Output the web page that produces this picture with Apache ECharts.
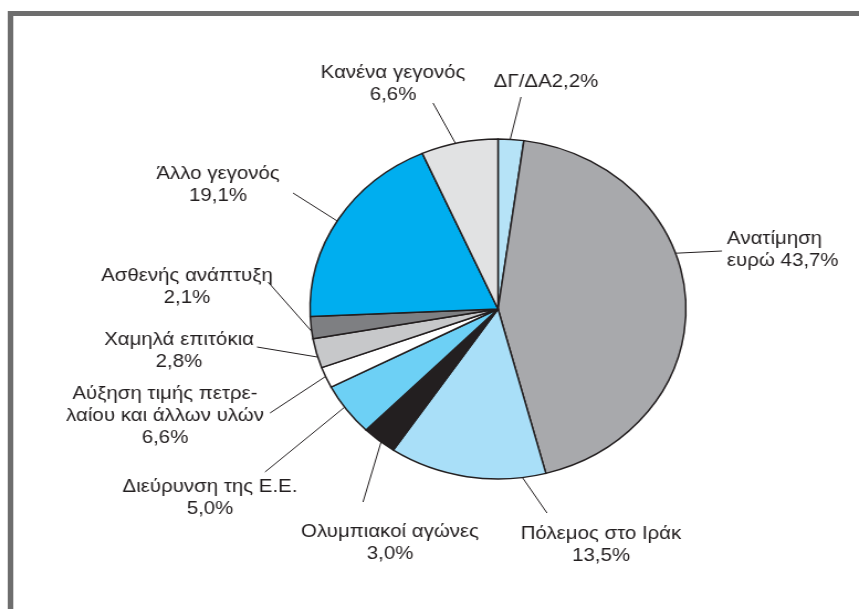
<!DOCTYPE html>
<html>
<head>
<meta charset="utf-8">
<script src="https://cdn.jsdelivr.net/npm/echarts@6/dist/echarts.min.js"></script>
<style>
  html, body { margin: 0; padding: 0; background: #fff; overflow: hidden; }
  /* the printed chart is stretched horizontally, so the whole drawing is too */
  #main { width: 777px; height: 609px; transform: scaleX(1.1055); transform-origin: 0 0; }
</style>
</head>
<body>
<div id="main"></div>
<script>
// DATA
var names = ['ΔΓ/ΔΑ', 'Ανατίμηση ευρώ', 'Πόλεμος στο Ιράκ', 'Ολυμπιακοί αγώνες', 'Διεύρυνση της Ε.Ε.',
  'Αύξηση τιμής πετρελαίου και άλλων υλών', 'Χαμηλά επιτόκια', 'Ασθενής ανάπτυξη', 'Άλλο γεγονός', 'Κανένα γεγονός'];
var values = [2.2, 43.7, 13.5, 3.0, 5.0, 2.0, 2.8, 2.1, 19.1, 6.6];
// label texts as printed on the chart
var labelTexts = ['ΔΓ/ΔΑ2,2%', 'Ανατίμηση\nευρώ 43,7%', 'Πόλεμος στο Ιράκ\n13,5%', 'Ολυμπιακοί αγώνες\n3,0%',
  'Διεύρυνση της Ε.Ε.\n5,0%', 'Αύξηση τιμής πετρε-\nλαίου και άλλων υλών\n6,6%', 'Χαμηλά επιτόκια\n2,8%',
  'Ασθενής ανάπτυξη\n2,1%', 'Άλλο γεγονός\n19,1%', 'Κανένα γεγονός\n6,6%'];

// STYLE / LAYOUT (page pixels, divided by the stretch below)
var S = 1.1055;
var CX = 498, CY = 309, R = 170;
var colors = ['#b6e3f7', '#a8a9ac', '#a9dff8', '#231f20', '#6dd0f5', '#ffffff', '#c7c8ca', '#7e7f82', '#00aeef', '#e1e2e3'];
// label block position [x, y, align]
var labelPos = [
  [546, 82, 'center'], [727, 250, 'left'], [601, 545, 'center'], [390, 543, 'center'], [210, 498, 'center'],
  [165, 416, 'center'], [179, 351, 'center'], [187, 287, 'center'], [218, 185, 'center'], [393, 84, 'center']
];
// where the leader line leaves the label
var lineStart = [
  [521, 97], [722, 251], [547, 513], [363, 502], [265, 472],
  [270, 413], [257, 347], [268, 282], [293, 193], [433, 103]
];
// where along its slice (0..1) each leader line touches the rim
var rimFrac = [0.47, 0.40, 0.15, 0.43, 0.56, 0.55, 0.37, 0.33, 0.49, 0.45];

var total = 0;
values.forEach(function (v) { total += v; });
// angle (deg, clockwise from 12 o'clock) at the start of each slice
var startDeg = [];
var acc = 0;
values.forEach(function (v) { startDeg.push(acc / total * 360); acc += v; });

function rimPoint(i) {
  var a = (startDeg[i] + rimFrac[i] * values[i] / total * 360) * Math.PI / 180;
  return [CX / S + R * Math.sin(a), CY - R * Math.cos(a)];
}

var chart = echarts.init(document.getElementById('main'));

var pieData = [];
for (var i = 0; i < values.length; i++) {
  pieData.push({ name: names[i], value: values[i], itemStyle: { color: colors[i] } });
}

var option = {
  animation: false,
  graphic: [{
    type: 'rect',
    shape: { x: 10.5 / S, y: 13.5, width: 900, height: 700 },
    style: { fill: 'none', stroke: '#6e6e6e', lineWidth: 5 },
    silent: true
  }],
  series: [{
    type: 'pie',
    center: [CX / S, CY],
    radius: R,
    startAngle: 90,
    clockwise: true,
    avoidLabelOverlap: false,
    data: pieData,
    itemStyle: { borderColor: '#231f20', borderWidth: 1.5 },
    emphasis: { disabled: true },
    label: {
      show: true,
      position: 'outside',
      color: '#231f20',
      fontFamily: 'Liberation Sans, Arial, sans-serif',
      fontSize: 18.5,
      lineHeight: 22,
      formatter: function (p) { return labelTexts[p.dataIndex]; }
    },
    labelLine: {
      show: true,
      length: 10,
      length2: 10,
      smooth: false,
      lineStyle: { color: '#231f20', width: 1 }
    },
    labelLayout: function (params) {
      var i = params.dataIndex;
      var p = labelPos[i];
      var s = [lineStart[i][0] / S, lineStart[i][1]];
      return {
        x: p[0] / S,
        y: p[1],
        align: p[2],
        verticalAlign: 'middle',
        labelLinePoints: [rimPoint(i), s, s]
      };
    }
  }]
};
chart.setOption(option);
</script>
</body>
</html>
